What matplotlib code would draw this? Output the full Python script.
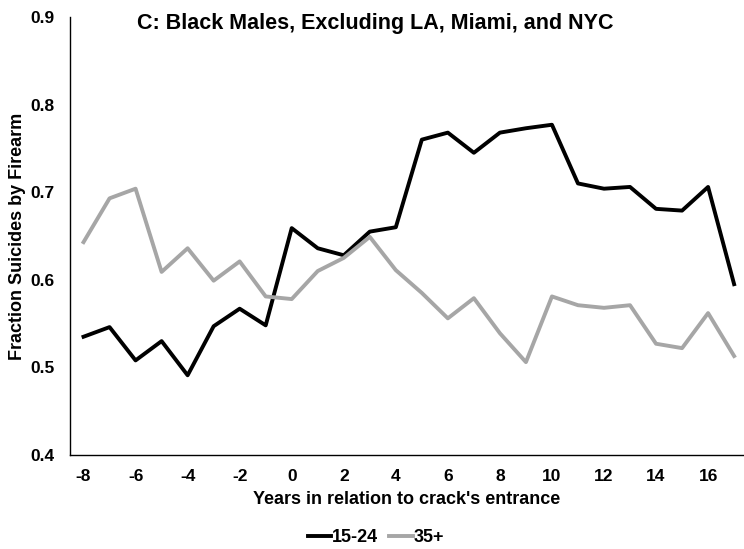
import numpy as np
import matplotlib
matplotlib.use("Agg")
import matplotlib.pyplot as plt

plt.rcParams['font.family'] = ['Liberation Sans', 'DejaVu Sans']
plt.rcParams['font.weight'] = 'bold'
plt.rcParams['axes.unicode_minus'] = False

years = list(range(-8, 18))
young = [0.535, 0.546, 0.508, 0.530, 0.491, 0.547, 0.567, 0.548, 0.659, 0.636,
         0.628, 0.655, 0.660, 0.760, 0.768, 0.745, 0.768, 0.773, 0.777, 0.710,
         0.704, 0.706, 0.681, 0.679, 0.706, 0.595]
old = [0.643, 0.693, 0.704, 0.609, 0.636, 0.599, 0.621, 0.581, 0.578, 0.610,
       0.625, 0.649, 0.611, 0.585, 0.556, 0.579, 0.539, 0.506, 0.581, 0.571,
       0.568, 0.571, 0.527, 0.522, 0.562, 0.513]
xticks = list(range(-8, 17, 2))
yticks = [0.4, 0.5, 0.6, 0.7, 0.8, 0.9]

fig = plt.figure(figsize=(7.44, 5.49), dpi=100)
ax = fig.add_axes([70 / 744, 1 - 455 / 549, (744 - 70) / 744, (455 - 17) / 549])

ax.plot(years, young, color='black', lw=2.8, label='15-24')
ax.plot(years, old, color='#a6a6a6', lw=2.8, label='35+')

ax.set_xlim(-8.52, 17.38)
ax.set_ylim(0.4, 0.9)
ax.set_xticks(xticks)
ax.set_yticks(yticks)
ax.set_yticklabels([f"{v:.1f}" for v in yticks])
ax.tick_params(length=0, labelsize=12.5)
ax.tick_params(axis='x', pad=10)
ax.tick_params(axis='y', pad=11)
for lbl in ax.get_xticklabels() + ax.get_yticklabels():
    lbl.set_fontweight('bold')
ax.spines['top'].set_visible(False)
ax.spines['right'].set_visible(False)
ax.spines['left'].set_linewidth(1)
ax.spines['bottom'].set_linewidth(1)

ax.set_xlabel("Years in relation to crack's entrance", fontsize=13, fontweight='bold', labelpad=5)
ax.set_ylabel("Fraction Suicides by Firearm", fontsize=13, fontweight='bold', labelpad=3)

fig.text(375 / 744, 1 - 23 / 549, "C: Black Males, Excluding LA, Miami, and NYC",
         ha='center', va='center', fontsize=15.5, fontweight='bold')

fig.legend(loc='center', bbox_to_anchor=(376 / 744, 1 - 538 / 549), ncol=2, frameon=False,
           fontsize=13, handlelength=1.3, handletextpad=0.05, columnspacing=0.6)

fig.savefig("out.png", dpi=100)
